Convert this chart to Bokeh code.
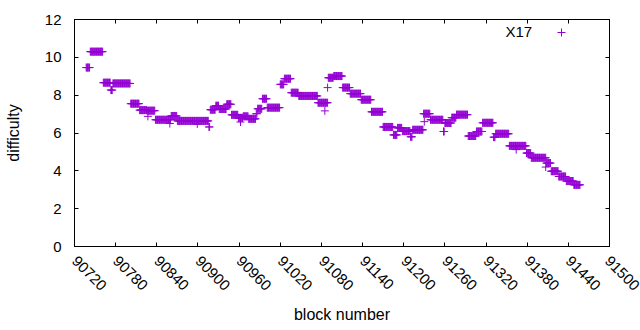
import math
import numpy as np
from bokeh.plotting import figure
from bokeh.models import (FixedTicker, LinearAxis, Legend, LegendItem, Label,
                          ColumnDataSource, Range1d, CustomLabelingPolicy)
from bokeh.embed import file_html
from bokeh.resources import INLINE

# ---- data ----
# runs of constant difficulty: [start, end) block numbers
run_start = [90737, 90743, 90762, 90773, 90776, 90802, 90815, 90826, 90838, 90861,
             90870, 90916, 90918, 90926, 90931, 90942, 90949, 90959, 90966, 90974,
             90985, 90987, 90994, 91001, 91020, 91026, 91036, 91047, 91075, 91090,
             91098, 91111, 91122, 91138, 91153, 91170, 91185, 91191, 91198, 91210,
             91213, 91229, 91239, 91258, 91260, 91270, 91277, 91294, 91306, 91315,
             91331, 91334, 91354, 91379, 91386, 91408, 91415, 91426, 91437, 91448]
run_end = run_start[1:] + [91458]
run_value = [9.46, 10.30, 8.66, 8.27, 8.62, 7.55, 7.21, 7.18, 6.70, 6.90,
             6.64, 6.32, 7.23, 7.44, 7.27, 7.52, 6.96, 6.80, 6.88, 6.75,
             7.02, 7.28, 7.81, 7.34, 8.57, 8.87, 8.13, 7.96, 7.60, 8.92,
             9.01, 8.40, 8.08, 7.76, 7.12, 6.32, 5.90, 6.27, 6.10, 5.80,
             6.17, 7.02, 6.70, 6.08, 6.53, 6.81, 6.97, 5.84, 6.08, 6.54,
             5.78, 5.96, 5.32, 4.94, 4.69, 4.41, 3.98, 3.70, 3.46, 3.26]
# isolated points off the runs
extra_block = [90827, 90859, 90899, 90962, 91085, 91089, 91230, 91364, 91407]
extra_value = [6.88, 6.50, 6.48, 6.58, 7.17, 8.40, 6.60, 5.12, 4.20]

x_ticks = list(range(90720, 91501, 60))
y_ticks = [0, 2, 4, 6, 8, 10, 12]
series_name = "X17"

blocks = np.concatenate([np.arange(s, e) for s, e in zip(run_start, run_end)]
                        + [np.array(extra_block)])
values = np.concatenate([np.full(e - s, v) for s, e, v in zip(run_start, run_end, run_value)]
                        + [np.array(extra_value)])
src = ColumnDataSource(dict(block=blocks, difficulty=values))

FONT = "Liberation Sans"
FS = "15px"
COLOR = "#9400D3"

p = figure(width=640, height=330, output_backend="svg", toolbar_location=None,
           x_range=Range1d(90720, 91500), y_range=Range1d(0, 12),
           min_border_left=74, min_border_right=31, min_border_top=19,
           min_border_bottom=84, background_fill_color="white",
           border_fill_color="white")
p.xgrid.visible = False
p.ygrid.visible = False
p.outline_line_color = "black"
p.outline_line_width = 1
p.outline_line_alpha = 1

def style_axis(ax, ticks):
    ax.ticker = FixedTicker(ticks=ticks)
    ax.major_tick_in = 4
    ax.major_tick_out = 0
    ax.minor_tick_line_color = None
    ax.major_tick_line_color = "black"
    ax.axis_line_color = "black"
    ax.major_label_text_font = FONT
    ax.major_label_text_font_size = FS
    ax.major_label_text_color = "black"
    ax.axis_label_text_font = FONT
    ax.axis_label_text_font_size = "16px"
    ax.axis_label_text_font_style = "normal"
    ax.axis_label_text_color = "black"

xa = p.xaxis[0]
style_axis(xa, x_ticks)
xa.axis_label = "block number"
xa.major_label_orientation = -math.pi / 4
xa.major_label_standoff = 12
xa.axis_label_standoff = 8

ya = p.yaxis[0]
style_axis(ya, y_ticks)
ya.axis_label = "difficulty"
ya.major_label_standoff = 13
ya.axis_label_standoff = 20

no_labels = CustomLabelingPolicy(code="return new Set()")
for loc, ticks in (("right", y_ticks), ("above", x_ticks)):
    ax = LinearAxis()
    style_axis(ax, ticks)
    ax.major_label_policy = no_labels
    ax.major_label_standoff = 0
    p.add_layout(ax, loc)

r = p.scatter(x="block", y="difficulty", source=src, marker="cross", size=8,
              line_color=COLOR, line_width=1)

# gnuplot-style key: label text on the left, sample marker on the right
legend = Legend(items=[LegendItem(label=series_name, renderers=[r])],
                location=(477, 204), glyph_width=20, glyph_height=20,
                label_height=20, label_standoff=0, padding=0, margin=0,
                spacing=0, background_fill_alpha=0, border_line_color=None,
                label_text_font=FONT, label_text_font_size=FS,
                label_text_color=None)
p.add_layout(legend)
p.add_layout(Label(x=431, y=215, x_units="screen", y_units="screen",
                   text=series_name, text_font=FONT, text_font_size=FS,
                   text_baseline="middle", text_align="left",
                   text_color="black"))

open("out.html", "w").write(file_html(p, INLINE))
